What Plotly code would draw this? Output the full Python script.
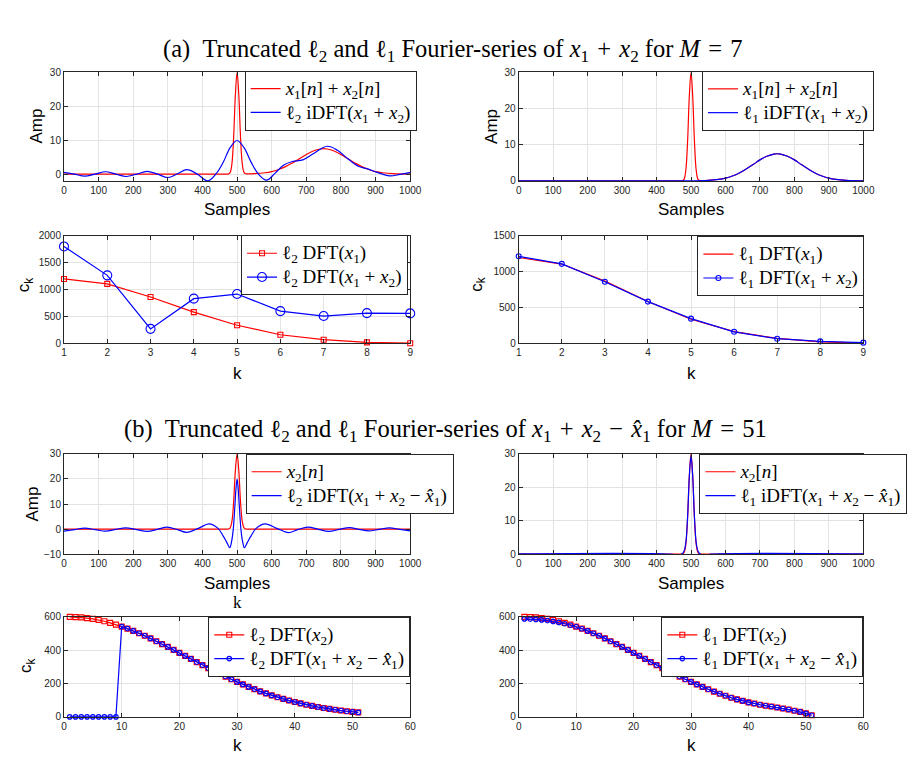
import plotly.graph_objects as go

# ---------------- (a) M = 7 : time-domain signals ----------------
n_sum = [0, 400, 460, 470, 475, 480, 485, 490, 495, 500, 505, 510, 515, 520, 525, 530,
         550, 580, 600, 620, 640, 660, 680, 700, 720, 740, 750, 760, 780, 800, 820,
         840, 860, 880, 900, 920, 950, 1000]
x1_plus_x2 = [0, 0, 0, 0, 0.05, 0.5, 3.0, 10.8, 23.2, 30, 23.2, 10.8, 3.0, 0.5, 0.1, 0.05,
              0.13, 0.4, 0.75, 1.35, 2.2, 3.3, 4.5, 5.8, 6.8, 7.4, 7.5, 7.4, 6.8, 5.8, 4.5,
              3.3, 2.2, 1.35, 0.75, 0.4, 0.13, 0.01]

n_l2_sum = [0, 30, 60, 90, 120, 150, 180, 210, 240, 270, 300, 328, 355, 385, 415, 440,
            460, 480, 500, 520, 540, 560, 585, 610, 635, 660, 690, 720, 760, 790, 820,
            850, 875, 905, 940, 970, 1000]
l2_idft_sum = [0.5, 0.0, -0.6, 0.0, 0.7, 0.0, -0.7, 0.0, 0.8, 0.0, -1.0, 0.1, 1.3, 0.0, -2.0, 0.2,
               3.5, 7.8, 9.9, 7.8, 3.6, 0.2, -1.8, 0.3, 2.7, 3.7, 4.2, 6.0, 8.2, 7.0, 4.5,
               2.3, 1.6, 0.5, -0.5, -0.1, 0.5]

n_l1_sum = [0, 500, 550, 580, 600, 620, 640, 660, 680, 700, 720, 740, 750, 760, 780, 800,
            820, 840, 860, 880, 900, 920, 950, 1000]
l1_idft_sum = [0, 0.01, 0.13, 0.4, 0.75, 1.35, 2.2, 3.3, 4.5, 5.8, 6.8, 7.4, 7.5, 7.4, 6.8, 5.8,
               4.5, 3.3, 2.2, 1.35, 0.75, 0.4, 0.13, 0.01]

# ---------------- (a) M = 7 : coefficients ----------------
k_a = [1, 2, 3, 4, 5, 6, 7, 8, 9]
l2_dft_x1 = [1195, 1104, 860, 579, 335, 159, 67, 18, 2]
l2_dft_sum = [1799, 1262, 268, 829, 915, 598, 506, 561, 555]
l1_dft_x1 = [1195, 1104, 866, 583, 335, 162, 68, 20, 3]
l1_dft_sum = [1212, 1107, 858, 581, 343, 160, 64, 27, 9]

# ---------------- (b) M = 51 : time-domain signals ----------------
n_x2 = [0, 400, 465, 470, 475, 480, 485, 490, 495, 500, 505, 510, 515, 520, 525, 530, 535, 600, 1000]
x2_n = [0, 0, 0, 0.01, 0.04, 0.5, 3.0, 10.8, 23.2, 30, 23.2, 10.8, 3.0, 0.5, 0.04, 0.01, 0, 0, 0]

n_l2_res = [0, 30, 60, 90, 120, 150, 178, 210, 240, 270, 298, 328, 355, 388, 419, 445,
            460, 470, 479, 484, 489, 494, 497, 500, 503, 506, 511, 516, 521, 530, 540,
            555, 581, 615, 648, 675, 705, 735, 765, 795, 825, 852, 880, 910, 940, 970, 1000]
l2_idft_res = [-0.8, -0.2, 0.4, -0.2, -0.8, -0.1, 0.5, -0.2, -0.9, -0.1, 0.8, -0.2, -1.3, 0.3, 2.1, 0.3,
               -2.8, -5.2, -7.4, -5.0, 0.0, 10.0, 16.5, 19.9, 16.5, 10.0, 0.0, -5.0, -7.4, -5.2, -2.8,
               0.3, 2.1, 0.3, -1.4, -0.2, 0.8, -0.1, -0.9, -0.1, 0.6, -0.1, -0.7, -0.1, 0.5, -0.1, -0.7]

n_l1_res = [0, 440, 465, 475, 480, 485, 490, 495, 500, 505, 510, 515, 520, 525, 535, 560, 1000]
l1_idft_res = [0.1, 0, -0.4, 0.2, 1.0, 3.5, 11.0, 23.0, 29.5, 23.0, 11.0, 3.5, 1.0, 0.2, -0.4, 0, 0.1]

# ---------------- (b) M = 51 : coefficients ----------------
k_b = list(range(1, 52))
l2_dft_x2 = [600, 599, 597, 593, 588, 582, 574, 564, 554, 542, 530, 516, 502, 487, 471, 454, 437,
             420, 402, 384, 366, 348, 329, 311, 293, 276, 259, 242, 226, 210, 195, 180, 167, 153,
             141, 129, 118, 108, 98, 89, 81, 73, 66, 59, 53, 48, 43, 38, 34, 30, 27]
l2_dft_res = [0, 0, 0, 0, 0, 0, 0, 0, 0, 542, 530, 516, 502, 487, 471, 454, 437,
              420, 402, 384, 366, 348, 329, 311, 293, 276, 259, 242, 226, 210, 195, 180, 167, 153,
              141, 129, 118, 108, 98, 89, 81, 73, 66, 59, 53, 48, 43, 38, 34, 30, 27]
l1_dft_x2 = [600, 599, 597, 593, 588, 582, 574, 564, 554, 542, 530, 516, 502, 487, 471, 454, 437,
             420, 402, 384, 366, 348, 329, 311, 293, 276, 259, 242, 226, 210, 195, 180, 166, 152,
             139, 127, 115, 105, 96, 87, 80, 73, 67, 62, 56, 50, 44, 37, 30, 21, 10]
l1_dft_res = [588, 587, 585, 582, 578, 573, 567, 559, 550, 541, 529, 516, 502, 487, 471, 454, 437,
              420, 402, 384, 366, 348, 329, 311, 293, 276, 259, 242, 226, 210, 195, 180, 166, 152,
              139, 127, 115, 105, 96, 87, 80, 73, 67, 62, 56, 50, 44, 37, 30, 21, 10]

# ---------------- labels ----------------
x1 = "<i>x</i><sub>1</sub>"
x2 = "<i>x</i><sub>2</sub>"
x1hat = "<i>x\u0302</i><sub>1</sub>"
l1 = "\u2113<sub>1</sub>"
l2 = "\u2113<sub>2</sub>"
SP = "\u2005"  # four-per-em space around binary operators
PLUS = f"{SP}+{SP}"
MINUS = f"{SP}\u2212{SP}"
lbl_sum_n = f"{x1}[<i>n</i>]{PLUS}{x2}[<i>n</i>]"
lbl_x2_n = f"{x2}[<i>n</i>]"
TSP = "\u2004"  # three-per-em space for the headings
title_a = (f"(a)\u2002Truncated {l2} and {l1} Fourier-series of "
           f"{x1}{TSP}+{TSP}{x2} for <i>M</i>{TSP}={TSP}7")
title_b = (f"(b)\u2002Truncated {l2} and {l1} Fourier-series of "
           f"{x1}{TSP}+{TSP}{x2}{TSP}\u2212{TSP}{x1hat} for <i>M</i>{TSP}={TSP}51")

RED = "#ff0000"
BLUE = "#0000ff"
W, H = 914, 761


def px(x):
    return x / W


def py(y):
    return 1 - y / H


def big(text):
    # legend rows stay compact (smaller legend font) while the entry text is drawn larger
    return f'<span style="font-size:19px">{text}</span>'


fig = go.Figure()


def line(xs, ys, name, color, ax, leg, marker=None, msize=6, shape="spline"):
    kw = dict(x=xs, y=ys, name=big(name), xaxis="x" + ax, yaxis="y" + ax, legend=leg,
              line=dict(color=color, width=1.2, shape=shape))
    if marker:
        kw["mode"] = "lines+markers"
        kw["cliponaxis"] = False
        kw["marker"] = dict(symbol=marker + "-open", size=msize, color=color,
                            line=dict(width=1.1, color=color))
    else:
        kw["mode"] = "lines"
    fig.add_trace(go.Scatter(**kw))


# row 1
line(n_sum, x1_plus_x2, lbl_sum_n, RED, "", "legend")
line(n_l2_sum, l2_idft_sum, f"{l2} iDFT({x1}{PLUS}{x2})", BLUE, "", "legend")
line(n_sum, x1_plus_x2, lbl_sum_n, RED, "2", "legend2")
line(n_l1_sum, l1_idft_sum, f"{l1} iDFT({x1}{PLUS}{x2})", BLUE, "2", "legend2")
# row 2
line(k_a, l2_dft_x1, f"{l2} DFT({x1})", RED, "3", "legend3", "square", 5, "linear")
line(k_a, l2_dft_sum, f"{l2} DFT({x1}{PLUS}{x2})", BLUE, "3", "legend3", "circle", 9, "linear")
line(k_a, l1_dft_x1, f"{l1} DFT({x1})", RED, "4", "legend4", None, 6, "linear")
line(k_a, l1_dft_sum, f"{l1} DFT({x1}{PLUS}{x2})", BLUE, "4", "legend4", "circle", 5, "linear")
# row 3
line(n_x2, x2_n, lbl_x2_n, RED, "5", "legend5")
line(n_l2_res, l2_idft_res, f"{l2} iDFT({x1}{PLUS}{x2}{MINUS}{x1hat})", BLUE, "5", "legend5")
line(n_x2, x2_n, lbl_x2_n, RED, "6", "legend6")
line(n_l1_res, l1_idft_res, f"{l1} iDFT({x1}{PLUS}{x2}{MINUS}{x1hat})", BLUE, "6", "legend6")
# row 4
line(k_b, l2_dft_x2, f"{l2} DFT({x2})", RED, "7", "legend7", "square", 5, "linear")
line(k_b, l2_dft_res, f"{l2} DFT({x1}{PLUS}{x2}{MINUS}{x1hat})", BLUE, "7", "legend7", "circle", 4.5, "linear")
line(k_b, l1_dft_x2, f"{l1} DFT({x2})", RED, "8", "legend8", "square", 5, "linear")
line(k_b, l1_dft_res, f"{l1} DFT({x1}{PLUS}{x2}{MINUS}{x1hat})", BLUE, "8", "legend8", "circle", 4.5, "linear")

AX = dict(showline=True, linecolor="#262626", linewidth=1, mirror="ticks", ticks="inside",
          ticklen=4, tickcolor="#262626", showgrid=True, gridcolor="#e3e3e3", gridwidth=1,
          zeroline=False, tickfont=dict(family="Liberation Sans, Arial, sans-serif", size=10,
                                         color="#262626"))

L = [px(62), px(414)]
R = [px(524.3), px(874.7)]
rows = [[py(177.7), py(67.3)], [py(342.7), py(233.3)], [py(557), py(455)], [py(722.3), py(620.7)]]

samples_x = dict(range=[0, 1000], tickvals=list(range(0, 1001, 100)))
k9_x = dict(range=[1, 9], tickvals=k_a)
k60_x = dict(range=[0, 60], tickvals=list(range(0, 61, 10)))

spec = [
    ("", L, rows[0], samples_x, dict(range=[-2, 30], tickvals=[0, 10, 20, 30])),
    ("2", R, rows[0], samples_x, dict(range=[0, 30], tickvals=[0, 10, 20, 30])),
    ("3", L, rows[1], k9_x, dict(range=[0, 2000], tickvals=[0, 500, 1000, 1500, 2000])),
    ("4", R, rows[1], k9_x, dict(range=[0, 1500], tickvals=[0, 500, 1000, 1500])),
    ("5", L, rows[2], samples_x, dict(range=[-10, 30], tickvals=[-10, 0, 10, 20, 30])),
    ("6", R, rows[2], samples_x, dict(range=[0, 30], tickvals=[0, 10, 20, 30])),
    ("7", L, rows[3], k60_x, dict(range=[0, 600], tickvals=[0, 200, 400, 600])),
    ("8", R, rows[3], k60_x, dict(range=[0, 600], tickvals=[0, 200, 400, 600])),
]

layout = dict(width=W, height=H, margin=dict(l=0, r=0, t=0, b=0),
              paper_bgcolor="white", plot_bgcolor="white", showlegend=True)

for ax, xd, yd, xs, ys in spec:
    layout["xaxis" + ax] = dict(AX, domain=xd, anchor="y" + ax, **xs)
    layout["yaxis" + ax] = dict(AX, domain=yd, anchor="x" + ax, **ys)

SERIF = "Liberation Serif, DejaVu Serif, serif"
LEG_FONT = dict(family=SERIF, size=16, color="black")
leg_pos = {
    "legend": (245.7, 65.7),
    "legend2": (710.7, 66),
    "legend3": (242, 233),
    "legend4": (706, 234),
    "legend5": (246.7, 455),
    "legend6": (708, 455),
    "legend7": (208.7, 620.7),
    "legend8": (669.3, 620.7),
}
for name, (lx, ly) in leg_pos.items():
    layout[name] = dict(x=px(lx), y=py(ly), xanchor="left", yanchor="top",
                        bgcolor="white", bordercolor="#262626", borderwidth=1,
                        font=LEG_FONT, itemwidth=30, tracegroupgap=0)

ann = []
SANS = "Liberation Sans, Arial, sans-serif"


def label(text, x, y, size=17, angle=0, family=SANS):
    ann.append(dict(text=text, x=px(x), y=py(y), xref="paper", yref="paper",
                    showarrow=False, xanchor="center", yanchor="middle",
                    textangle=angle, font=dict(family=family, size=size, color="black")))


label(title_a, 457, 45, 24.5, family=SERIF)
label(title_b, 450, 431, 24.5, family=SERIF)

label("Samples", 238, 207)
label("Samples", 699.5, 207)
label("k", 238, 373)
label("k", 699.5, 373)
label("Samples", 238, 587)
label("Samples", 699.5, 587)
label("k", 238, 751)
label("k", 699.5, 751)
label("k", 238, 606, 17, family=SERIF)

label("Amp", 34, 122, angle=-90)
label("Amp", 496, 122, angle=-90)
label("c<sub>k</sub>", 22, 283, angle=-90)
label("c<sub>k</sub>", 482, 283, angle=-90)
label("Amp", 30, 506, angle=-90)
label("c<sub>k</sub>", 25, 670, angle=-90)

layout["annotations"] = ann
fig.update_layout(**layout)
fig.write_html("out.html")
